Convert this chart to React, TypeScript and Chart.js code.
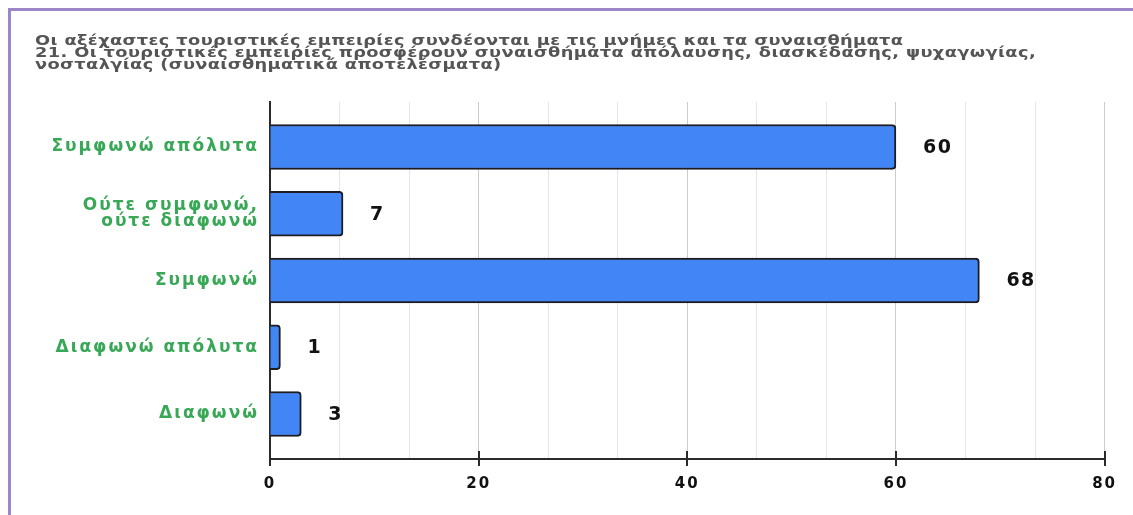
import React, { useEffect, useRef } from "react";
import { Chart, registerables } from "chart.js";

Chart.register(...registerables);

// Survey answers (y categories, top to bottom) and respondent counts
const categories: (string | string[])[] = [
  "Συμφωνώ απόλυτα",
  ["Ούτε συμφωνώ,", "ούτε διαφωνώ"],
  "Συμφωνώ",
  "Διαφωνώ απόλυτα",
  "Διαφωνώ",
];
const counts: number[] = [60, 7, 68, 1, 3];

// Horizontal axis: labelled every 20, light grid every third of that
const axisMin = 0;
const axisMax = 80;
const labelStep = 20;
const gridStep = labelStep / 3;

const titleLines: string[] = [
  "Οι αξέχαστες τουριστικές εμπειρίες συνδέονται με τις μνήμες και τα συναισθήματα",
  "21. Οι τουριστικές εμπειρίες προσφέρουν συναισθήματα απόλαυσης, διασκέδασης, ψυχαγωγίας,",
  "νοσταλγίας (συναισθηματικά αποτελέσματα)",
];

const FONT = "'DejaVu Sans', 'Liberation Sans', sans-serif";
const BAR_FILL = "#4285f4";
const BAR_EDGE = "#1c1c22";
const LABEL_GREEN = "#38a857";
const AXIS_DARK = "#2a2a2a";
const TICK_SPACING = "2px";
const VALUE_SPACING = "1.5px";
// extra room above the first and below the last category, in category widths
const CATEGORY_INSET = 0.174;

const isLabelled = (v: number) => Math.abs(v / labelStep - Math.round(v / labelStep)) < 1e-6;

const letterSpacingPlugin = {
  id: "letterSpacing",
  beforeUpdate(chart: any) {
    chart.ctx.letterSpacing = TICK_SPACING;
  },
  beforeDraw(chart: any) {
    chart.ctx.letterSpacing = TICK_SPACING;
  },
};

// Tick marks crossing the baseline at the labelled values
const axisMarksPlugin = {
  id: "axisMarks",
  afterDraw(chart: any) {
    const x = chart.scales.x;
    const bottom = chart.chartArea.bottom;
    const ctx = chart.ctx;
    ctx.save();
    ctx.strokeStyle = AXIS_DARK;
    ctx.lineWidth = 2;
    for (let v = axisMin; v <= axisMax + 1e-9; v += labelStep) {
      const px = Math.round(x.getPixelForValue(v));
      ctx.beginPath();
      ctx.moveTo(px, bottom - 8);
      ctx.lineTo(px, bottom + 7);
      ctx.stroke();
    }
    ctx.restore();
  },
};

// Count printed to the right of each bar
const valueLabelPlugin = {
  id: "valueLabels",
  afterDatasetsDraw(chart: any) {
    const ctx = chart.ctx;
    const meta = chart.getDatasetMeta(0);
    ctx.save();
    ctx.letterSpacing = VALUE_SPACING;
    ctx.font = `bold 19px ${FONT}`;
    ctx.fillStyle = "#111";
    ctx.textAlign = "left";
    ctx.textBaseline = "middle";
    meta.data.forEach((bar: any, i: number) => {
      ctx.fillText(String(counts[i]), bar.x + 27, bar.y + 1);
    });
    ctx.restore();
  },
};

function BarChart() {
  const canvasRef = useRef<HTMLCanvasElement | null>(null);

  useEffect(() => {
    if (!canvasRef.current) return;
    const chart = new Chart(canvasRef.current, {
      type: "bar",
      data: {
        labels: categories as any,
        datasets: [
          {
            data: counts,
            backgroundColor: BAR_FILL,
            borderColor: BAR_EDGE,
            borderWidth: 2,
            borderRadius: 4,
            borderSkipped: "start",
            barThickness: 45,
          },
        ],
      },
      options: {
        indexAxis: "y",
        animation: false,
        responsive: false,
        layout: { padding: { top: 91, right: 27, bottom: 16, left: 0 } },
        plugins: {
          legend: { display: false },
          title: { display: false },
          tooltip: { enabled: false },
        },
        scales: {
          x: {
            type: "linear",
            min: axisMin,
            max: axisMax,
            ticks: {
              stepSize: gridStep,
              maxTicksLimit: 30,
              autoSkip: false,
              maxRotation: 0,
              padding: 16,
              color: "#111",
              font: { family: FONT, size: 15, weight: "bold" },
              callback: (v: any) => (isLabelled(Number(v)) ? String(Math.round(Number(v))) : ""),
            },
            grid: {
              drawTicks: false,
              lineWidth: 1,
              color: (c: any) => (isLabelled(c.tick.value) ? "#cccccc" : "#e6e6e6"),
            },
            border: { display: true, color: AXIS_DARK, width: 2 },
            afterFit: (s: any) => {
              s.height = 40;
            },
          },
          y: {
            type: "category",
            offset: true,
            ticks: {
              padding: 11,
              color: LABEL_GREEN,
              font: { family: FONT, size: 17, weight: "bold", lineHeight: 0.95 },
            },
            grid: { display: false, drawTicks: false },
            border: { display: true, color: AXIS_DARK, width: 2 },
            afterBuildTicks: (s: any) => {
              s._startValue -= CATEGORY_INSET;
              s._valueRange += 2 * CATEGORY_INSET;
            },
            afterFit: (s: any) => {
              s.width = 259;
            },
          },
        },
      },
      plugins: [letterSpacingPlugin, axisMarksPlugin, valueLabelPlugin],
    } as any);
    return () => chart.destroy();
  }, []);

  return (
    <div
      style={{
        position: "fixed",
        left: 8,
        top: 8,
        width: 1125,
        height: 507,
        boxSizing: "border-box",
        borderTop: "3px solid #9a86c8",
        borderLeft: "3px solid #9a86c8",
        background: "#fff",
        overflow: "hidden",
      }}
    >
      <canvas ref={canvasRef} width={1122} height={504} style={{ display: "block" }} />
      <div
        style={{
          position: "absolute",
          left: 24,
          top: 23,
          fontFamily: FONT,
          fontWeight: "bold",
          fontSize: 14,
          lineHeight: "12px",
          letterSpacing: "0.3px",
          color: "#555",
          whiteSpace: "pre",
          transform: "scaleX(1.27)",
          transformOrigin: "0 0",
        }}
      >
        {titleLines.map((t, i) => (
          <div key={i}>{t}</div>
        ))}
      </div>
    </div>
  );
}

export default function App() {
  return <BarChart />;
}
